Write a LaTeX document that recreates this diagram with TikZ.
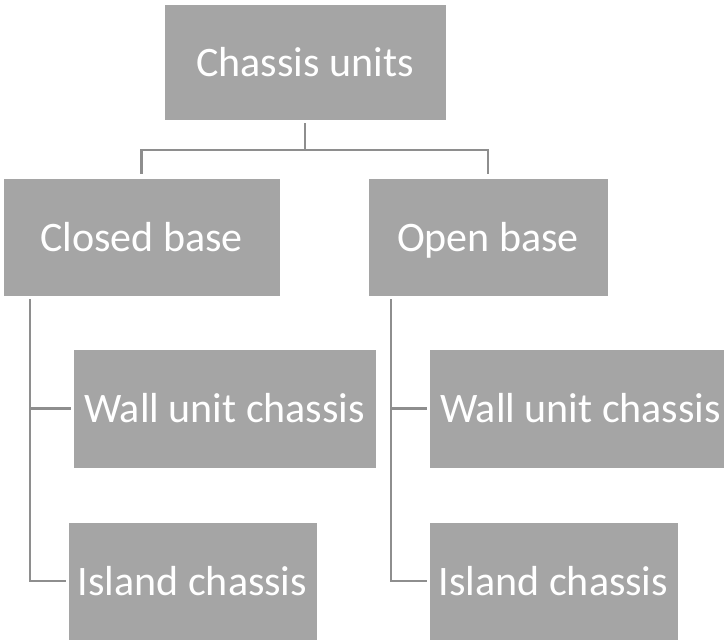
\documentclass[tikz,border=0pt]{standalone}
\usepackage{fontspec}
\setmainfont{Carlito}
\usetikzlibrary{positioning}
\definecolor{boxgray}{HTML}{A5A5A5}
\definecolor{linegray}{HTML}{8E8E8E}
\tikzset{
  unitbox/.style ={draw=white, line width=0.8pt, fill=boxgray, text=white,
                   inner sep=0pt, text height=28pt, text depth=0pt,
                   font=\fontsize{42}{50}\selectfont},
  link/.style    ={draw=linegray, line width=2.2pt, shorten <=3pt,
                   shorten >=2pt},
}

\begin{document}
\begin{tikzpicture}[x=1pt,y=-1pt]
  \useasboundingbox (0,0) rectangle (724,640);
  \clip (0,0) rectangle (724,640);
  % ---- top level
  \node[unitbox, minimum width=282pt, minimum height=116pt] (root) at (305,62) {Chassis units};
  % ---- the two bases
  \node[unitbox, minimum width=277pt, minimum height=118pt] (closed) at (141.5,237) {Closed base};
  \node[unitbox, minimum width=240pt, minimum height=118pt] (open)   at (488,237)   {Open base};
  % ---- closed base children
  \node[unitbox, minimum width=303pt, minimum height=119pt] (lwall) at (224.5,408.5) {Wall unit chassis};
  \node[unitbox, minimum width=249pt, minimum height=118pt] (lisle) at (192.5,581)   {Island chassis};
  % ---- open base children
  \node[unitbox, minimum width=303pt, minimum height=119pt] (rwall) at (580.5,408.5) {Wall unit chassis};
  \node[unitbox, minimum width=249pt, minimum height=118pt] (risle) at (553.5,581)   {Island chassis};
  % ---- connectors
  \coordinate (bus) at (305,150);
  \coordinate (lrail) at (30,296);
  \coordinate (rrail) at (391,296);
  \draw[link, shorten >=0pt] (root.south) -- (bus);
  \draw[link, shorten <=0pt, shorten >=4pt] (bus) -| (closed.north);
  \draw[link, shorten <=0pt, shorten >=4pt] (bus) -| (open.north);
  \draw[link] (lrail) |- (lwall.west);
  \draw[link] (lrail) |- (lisle.west);
  \draw[link] (rrail) |- (rwall.west);
  \draw[link] (rrail) |- (risle.west);
\end{tikzpicture}
\end{document}
